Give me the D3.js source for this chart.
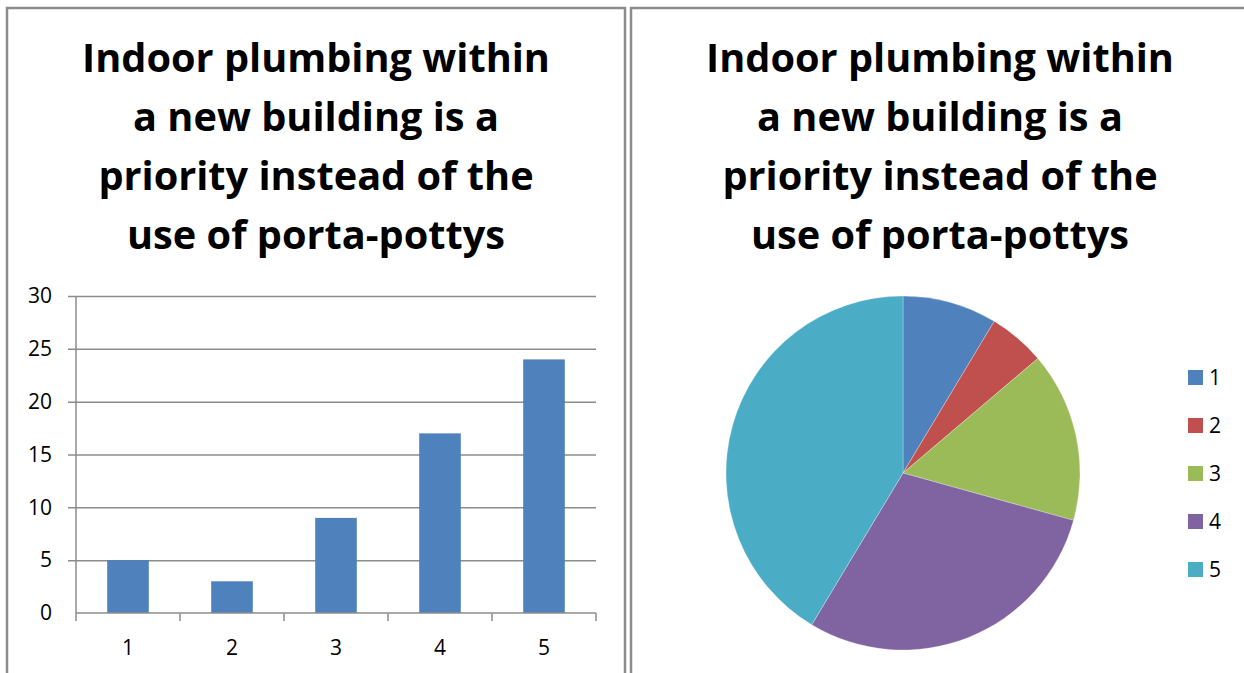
<!DOCTYPE html>
<html>
<head>
<meta charset="utf-8">
<script src="https://cdn.jsdelivr.net/npm/d3@7"></script>
<style>
  body { margin: 0; background: #fff; }
  svg { display: block; font-family: "Open Sans", sans-serif; }
</style>
</head>
<body>
<svg id="chart" width="1244" height="673"></svg>
<script>
const categories = ["1", "2", "3", "4", "5"];
const counts = [5, 3, 9, 17, 24];
const yTicks = [0, 5, 10, 15, 20, 25, 30];
const titleLines = ["Indoor plumbing within", "a new building is a", "priority instead of the", "use of porta-pottys"];
const colors = ["#4F81BD", "#C0504D", "#9BBB59", "#8064A2", "#4BACC6"];

const svg = d3.select("#chart");
const data = categories.map((c, i) => ({ cat: c, value: counts[i], color: colors[i] }));
const labelSize = 21;

// panel frames
const frame = svg.append("g").attr("fill", "none").attr("stroke", "#8c8c8c").attr("stroke-width", 2.5);
frame.append("path").attr("d", "M7,673 V8 H625 V673");
frame.append("path").attr("d", "M631,673 V8 H1244");

// size the title so its first line spans about 468px, like the reference
const probe = svg.append("text").attr("font-size", 40).attr("font-weight", "bold").text(titleLines[0]);
const titleSize = 40 * 468 / probe.node().getComputedTextLength();
probe.remove();

const drawTitle = (cx) => {
  svg.append("text")
    .attr("text-anchor", "middle")
    .attr("font-size", titleSize)
    .attr("font-weight", "bold")
    .attr("fill", "#000")
    .selectAll("tspan")
    .data(titleLines)
    .join("tspan")
    .attr("x", cx)
    .attr("y", (d, i) => 72 + i * 59)
    .text((d) => d);
};
drawTitle(316);
drawTitle(940);

// bar chart
const plot = { left: 76, right: 596, top: 296, bottom: 613 };
const x = d3.scaleBand().domain(categories).range([plot.left, plot.right]);
const y = d3.scaleLinear().domain([0, 30]).range([plot.bottom, plot.top]);

const bars = svg.append("g");
bars.append("g")
  .attr("transform", `translate(${plot.left},0)`)
  .call(d3.axisLeft(y).tickValues(yTicks).tickSize(8).tickPadding(16))
  .call((g) => g.attr("font-family", null).attr("font-size", labelSize))
  .call((g) => g.select(".domain").attr("stroke", "#8c8c8c").attr("stroke-width", 1.5).attr("d", `M0,${plot.top}V${plot.bottom}`))
  .call((g) => g.selectAll(".tick line").attr("stroke", "#8c8c8c").attr("stroke-width", 1.5)
    .attr("x2", (d) => d === 0 ? -8 : plot.right - plot.left).attr("x1", -8))
  .call((g) => g.selectAll(".tick text").attr("fill", "#000"));

bars.selectAll("rect")
  .data(data)
  .join("rect")
  .attr("x", (d) => x(d.cat) + x.bandwidth() * 0.3)
  .attr("width", x.bandwidth() * 0.4)
  .attr("y", (d) => y(d.value))
  .attr("height", (d) => y(0) - y(d.value))
  .attr("fill", colors[0]);

const xAxis = bars.append("g").attr("transform", `translate(0,${plot.bottom})`);
xAxis.append("line")
  .attr("x1", plot.left).attr("x2", plot.right)
  .attr("stroke", "#8c8c8c").attr("stroke-width", 1.5);
xAxis.selectAll(".tk")
  .data(categories.map((c) => x(c)).concat([plot.right]))
  .join("line")
  .attr("x1", (d) => d).attr("x2", (d) => d)
  .attr("y1", 0).attr("y2", 8)
  .attr("stroke", "#8c8c8c").attr("stroke-width", 1.5);
xAxis.selectAll("text")
  .data(categories)
  .join("text")
  .attr("x", (d) => x(d) + x.bandwidth() / 2)
  .attr("y", 42)
  .attr("text-anchor", "middle")
  .attr("font-size", labelSize)
  .text((d) => d);

// pie chart
const cx = 903, cy = 473, r = 177;
const pie = d3.pie().sort(null).value((d) => d.value);
const arc = d3.arc().innerRadius(0).outerRadius(r);
svg.append("g")
  .attr("transform", `translate(${cx},${cy})`)
  .selectAll("path")
  .data(pie(data))
  .join("path")
  .attr("d", arc)
  .attr("fill", (d) => d.data.color)
  .attr("stroke", "rgba(255,255,255,0.35)")
  .attr("stroke-width", 0.8);

const legend = svg.append("g").selectAll("g")
  .data(data)
  .join("g")
  .attr("transform", (d, i) => `translate(1188,${377 + i * 48})`);
legend.append("rect")
  .attr("x", 0).attr("y", -7).attr("width", 15).attr("height", 15)
  .attr("fill", (d) => d.color);
legend.append("text")
  .attr("x", 21).attr("y", 8)
  .attr("font-size", labelSize)
  .text((d) => d.cat);
</script>
</body>
</html>
